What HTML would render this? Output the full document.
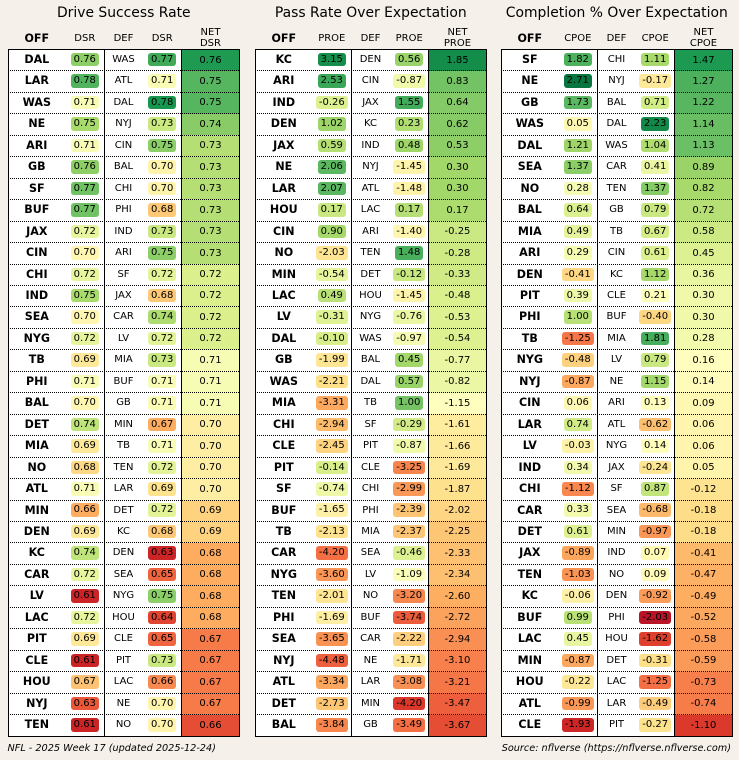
<!DOCTYPE html>
<html><head><meta charset="utf-8">
<style>
*{box-sizing:border-box}
html,body{margin:0;padding:0}
body{width:739px;height:760px;background:#f5f0ea;position:relative;overflow:hidden;font-family:"DejaVu Sans","Liberation Sans",sans-serif;color:#000}
.pn{position:absolute;top:0;width:231px;height:760px}
.tt{position:absolute;top:3px;left:-20px;width:271px;height:21px;line-height:21px;text-align:center;font-size:13.9px;white-space:nowrap}
.hd{position:absolute;top:28px;height:21px;line-height:21px;font-size:10px;text-align:center;white-space:nowrap}
.hd.o{font-weight:bold;font-size:11.1px;left:0;width:57px}
.hd.h2{left:57px;width:39px}
.hd.h3{left:96px;width:38.4px}
.hd.h4{left:134.4px;width:39px}
.hd.h5{left:173.4px;width:57.6px;line-height:10.5px;top:28px}
.tb{position:absolute;top:49.5px;left:0;width:231px;height:686.8px;background:#fff}
.r{display:flex;height:21.4625px;position:relative}
.r+.r::before{content:"";position:absolute;left:0;right:0;top:-0.5px;border-top:1px dotted #000;z-index:2}
.r b{display:block;width:57px;text-align:center;font-weight:bold;font-size:11.1px;line-height:21.46px;position:relative;top:-0.5px}
.r p{margin:0;width:39px;display:flex;align-items:center;justify-content:center;padding-bottom:1px}
.r i{font-style:normal;display:inline-block;height:13.5px;line-height:13.5px;padding:0 3px;border-radius:3px;font-size:10px}
.r u{text-decoration:none;display:block;width:38.4px;text-align:center;font-size:10px;line-height:21.46px;position:relative;top:-0.5px}
.r em{font-style:normal;display:block;width:57.6px;text-align:center;font-size:10px;line-height:21.46px}
.v1{position:absolute;top:49.5px;height:686.8px;left:95.5px;border-left:1px solid #000;z-index:3}
.v2{position:absolute;top:49.5px;height:686.8px;left:172.6px;border-left:1.5px solid #000;z-index:3}
.ob{position:absolute;top:48.8px;left:-0.7px;width:232.4px;height:688.2px;border:1.5px solid #000;z-index:4}
.ft{position:absolute;top:742px;height:13px;line-height:13px;font-size:9.7px;font-style:italic;white-space:nowrap}
</style></head><body>

<div class="pn" style="left:8.3px">
<div class="tt">Drive Success Rate</div>
<div class="hd o">OFF</div><div class="hd h2">DSR</div><div class="hd h3">DEF</div><div class="hd h4">DSR</div><div class="hd h5">NET<br>DSR</div>
<div class="tb">
<div class="r"><b>DAL</b><p><i>0.76</i></p><u>WAS</u><p><i>0.77</i></p><em>0.76</em></div>
<div class="r"><b>LAR</b><p><i>0.78</i></p><u>ATL</u><p><i>0.71</i></p><em>0.75</em></div>
<div class="r"><b>WAS</b><p><i>0.71</i></p><u>DAL</u><p><i>0.78</i></p><em>0.75</em></div>
<div class="r"><b>NE</b><p><i>0.75</i></p><u>NYJ</u><p><i>0.73</i></p><em>0.74</em></div>
<div class="r"><b>ARI</b><p><i>0.71</i></p><u>CIN</u><p><i>0.75</i></p><em>0.73</em></div>
<div class="r"><b>GB</b><p><i>0.76</i></p><u>BAL</u><p><i>0.70</i></p><em>0.73</em></div>
<div class="r"><b>SF</b><p><i>0.77</i></p><u>CHI</u><p><i>0.70</i></p><em>0.73</em></div>
<div class="r"><b>BUF</b><p><i>0.77</i></p><u>PHI</u><p><i>0.68</i></p><em>0.73</em></div>
<div class="r"><b>JAX</b><p><i>0.72</i></p><u>IND</u><p><i>0.73</i></p><em>0.73</em></div>
<div class="r"><b>CIN</b><p><i>0.70</i></p><u>ARI</u><p><i>0.75</i></p><em>0.73</em></div>
<div class="r"><b>CHI</b><p><i>0.72</i></p><u>SF</u><p><i>0.72</i></p><em>0.72</em></div>
<div class="r"><b>IND</b><p><i>0.75</i></p><u>JAX</u><p><i>0.68</i></p><em>0.72</em></div>
<div class="r"><b>SEA</b><p><i>0.70</i></p><u>CAR</u><p><i>0.74</i></p><em>0.72</em></div>
<div class="r"><b>NYG</b><p><i>0.72</i></p><u>LV</u><p><i>0.72</i></p><em>0.72</em></div>
<div class="r"><b>TB</b><p><i>0.69</i></p><u>MIA</u><p><i>0.73</i></p><em>0.71</em></div>
<div class="r"><b>PHI</b><p><i>0.71</i></p><u>BUF</u><p><i>0.71</i></p><em>0.71</em></div>
<div class="r"><b>BAL</b><p><i>0.70</i></p><u>GB</u><p><i>0.71</i></p><em>0.71</em></div>
<div class="r"><b>DET</b><p><i>0.74</i></p><u>MIN</u><p><i>0.67</i></p><em>0.70</em></div>
<div class="r"><b>MIA</b><p><i>0.69</i></p><u>TB</u><p><i>0.71</i></p><em>0.70</em></div>
<div class="r"><b>NO</b><p><i>0.68</i></p><u>TEN</u><p><i>0.72</i></p><em>0.70</em></div>
<div class="r"><b>ATL</b><p><i>0.71</i></p><u>LAR</u><p><i>0.69</i></p><em>0.70</em></div>
<div class="r"><b>MIN</b><p><i>0.66</i></p><u>DET</u><p><i>0.72</i></p><em>0.69</em></div>
<div class="r"><b>DEN</b><p><i>0.69</i></p><u>KC</u><p><i>0.68</i></p><em>0.69</em></div>
<div class="r"><b>KC</b><p><i>0.74</i></p><u>DEN</u><p><i>0.63</i></p><em>0.68</em></div>
<div class="r"><b>CAR</b><p><i>0.72</i></p><u>SEA</u><p><i>0.65</i></p><em>0.68</em></div>
<div class="r"><b>LV</b><p><i>0.61</i></p><u>NYG</u><p><i>0.75</i></p><em>0.68</em></div>
<div class="r"><b>LAC</b><p><i>0.72</i></p><u>HOU</u><p><i>0.64</i></p><em>0.68</em></div>
<div class="r"><b>PIT</b><p><i>0.69</i></p><u>CLE</u><p><i>0.65</i></p><em>0.67</em></div>
<div class="r"><b>CLE</b><p><i>0.61</i></p><u>PIT</u><p><i>0.73</i></p><em>0.67</em></div>
<div class="r"><b>HOU</b><p><i>0.67</i></p><u>LAC</u><p><i>0.66</i></p><em>0.67</em></div>
<div class="r"><b>NYJ</b><p><i>0.63</i></p><u>NE</u><p><i>0.70</i></p><em>0.67</em></div>
<div class="r"><b>TEN</b><p><i>0.61</i></p><u>NO</u><p><i>0.70</i></p><em>0.66</em></div>
</div>
<div class="v1"></div><div class="v2"></div><div class="ob"></div>
</div>

<div class="pn" style="left:255.3px">
<div class="tt">Pass Rate Over Expectation</div>
<div class="hd o">OFF</div><div class="hd h2">PROE</div><div class="hd h3">DEF</div><div class="hd h4">PROE</div><div class="hd h5">NET<br>PROE</div>
<div class="tb">
<div class="r"><b>KC</b><p><i>3.15</i></p><u>DEN</u><p><i>0.56</i></p><em>1.85</em></div>
<div class="r"><b>ARI</b><p><i>2.53</i></p><u>CIN</u><p><i>-0.87</i></p><em>0.83</em></div>
<div class="r"><b>IND</b><p><i>-0.26</i></p><u>JAX</u><p><i>1.55</i></p><em>0.64</em></div>
<div class="r"><b>DEN</b><p><i>1.02</i></p><u>KC</u><p><i>0.23</i></p><em>0.62</em></div>
<div class="r"><b>JAX</b><p><i>0.59</i></p><u>IND</u><p><i>0.48</i></p><em>0.53</em></div>
<div class="r"><b>NE</b><p><i>2.06</i></p><u>NYJ</u><p><i>-1.45</i></p><em>0.30</em></div>
<div class="r"><b>LAR</b><p><i>2.07</i></p><u>ATL</u><p><i>-1.48</i></p><em>0.30</em></div>
<div class="r"><b>HOU</b><p><i>0.17</i></p><u>LAC</u><p><i>0.17</i></p><em>0.17</em></div>
<div class="r"><b>CIN</b><p><i>0.90</i></p><u>ARI</u><p><i>-1.40</i></p><em>-0.25</em></div>
<div class="r"><b>NO</b><p><i>-2.03</i></p><u>TEN</u><p><i>1.48</i></p><em>-0.28</em></div>
<div class="r"><b>MIN</b><p><i>-0.54</i></p><u>DET</u><p><i>-0.12</i></p><em>-0.33</em></div>
<div class="r"><b>LAC</b><p><i>0.49</i></p><u>HOU</u><p><i>-1.45</i></p><em>-0.48</em></div>
<div class="r"><b>LV</b><p><i>-0.31</i></p><u>NYG</u><p><i>-0.76</i></p><em>-0.53</em></div>
<div class="r"><b>DAL</b><p><i>-0.10</i></p><u>WAS</u><p><i>-0.97</i></p><em>-0.54</em></div>
<div class="r"><b>GB</b><p><i>-1.99</i></p><u>BAL</u><p><i>0.45</i></p><em>-0.77</em></div>
<div class="r"><b>WAS</b><p><i>-2.21</i></p><u>DAL</u><p><i>0.57</i></p><em>-0.82</em></div>
<div class="r"><b>MIA</b><p><i>-3.31</i></p><u>TB</u><p><i>1.00</i></p><em>-1.15</em></div>
<div class="r"><b>CHI</b><p><i>-2.94</i></p><u>SF</u><p><i>-0.29</i></p><em>-1.61</em></div>
<div class="r"><b>CLE</b><p><i>-2.45</i></p><u>PIT</u><p><i>-0.87</i></p><em>-1.66</em></div>
<div class="r"><b>PIT</b><p><i>-0.14</i></p><u>CLE</u><p><i>-3.25</i></p><em>-1.69</em></div>
<div class="r"><b>SF</b><p><i>-0.74</i></p><u>CHI</u><p><i>-2.99</i></p><em>-1.87</em></div>
<div class="r"><b>BUF</b><p><i>-1.65</i></p><u>PHI</u><p><i>-2.39</i></p><em>-2.02</em></div>
<div class="r"><b>TB</b><p><i>-2.13</i></p><u>MIA</u><p><i>-2.37</i></p><em>-2.25</em></div>
<div class="r"><b>CAR</b><p><i>-4.20</i></p><u>SEA</u><p><i>-0.46</i></p><em>-2.33</em></div>
<div class="r"><b>NYG</b><p><i>-3.60</i></p><u>LV</u><p><i>-1.09</i></p><em>-2.34</em></div>
<div class="r"><b>TEN</b><p><i>-2.01</i></p><u>NO</u><p><i>-3.20</i></p><em>-2.60</em></div>
<div class="r"><b>PHI</b><p><i>-1.69</i></p><u>BUF</u><p><i>-3.74</i></p><em>-2.72</em></div>
<div class="r"><b>SEA</b><p><i>-3.65</i></p><u>CAR</u><p><i>-2.22</i></p><em>-2.94</em></div>
<div class="r"><b>NYJ</b><p><i>-4.48</i></p><u>NE</u><p><i>-1.71</i></p><em>-3.10</em></div>
<div class="r"><b>ATL</b><p><i>-3.34</i></p><u>LAR</u><p><i>-3.08</i></p><em>-3.21</em></div>
<div class="r"><b>DET</b><p><i>-2.73</i></p><u>MIN</u><p><i>-4.20</i></p><em>-3.47</em></div>
<div class="r"><b>BAL</b><p><i>-3.84</i></p><u>GB</u><p><i>-3.49</i></p><em>-3.67</em></div>
</div>
<div class="v1"></div><div class="v2"></div><div class="ob"></div>
</div>

<div class="pn" style="left:501.3px">
<div class="tt">Completion % Over Expectation</div>
<div class="hd o">OFF</div><div class="hd h2">CPOE</div><div class="hd h3">DEF</div><div class="hd h4">CPOE</div><div class="hd h5">NET<br>CPOE</div>
<div class="tb">
<div class="r"><b>SF</b><p><i>1.82</i></p><u>CHI</u><p><i>1.11</i></p><em>1.47</em></div>
<div class="r"><b>NE</b><p><i>2.71</i></p><u>NYJ</u><p><i>-0.17</i></p><em>1.27</em></div>
<div class="r"><b>GB</b><p><i>1.73</i></p><u>BAL</u><p><i>0.71</i></p><em>1.22</em></div>
<div class="r"><b>WAS</b><p><i>0.05</i></p><u>DAL</u><p><i>2.23</i></p><em>1.14</em></div>
<div class="r"><b>DAL</b><p><i>1.21</i></p><u>WAS</u><p><i>1.04</i></p><em>1.13</em></div>
<div class="r"><b>SEA</b><p><i>1.37</i></p><u>CAR</u><p><i>0.41</i></p><em>0.89</em></div>
<div class="r"><b>NO</b><p><i>0.28</i></p><u>TEN</u><p><i>1.37</i></p><em>0.82</em></div>
<div class="r"><b>BAL</b><p><i>0.64</i></p><u>GB</u><p><i>0.79</i></p><em>0.72</em></div>
<div class="r"><b>MIA</b><p><i>0.49</i></p><u>TB</u><p><i>0.67</i></p><em>0.58</em></div>
<div class="r"><b>ARI</b><p><i>0.29</i></p><u>CIN</u><p><i>0.61</i></p><em>0.45</em></div>
<div class="r"><b>DEN</b><p><i>-0.41</i></p><u>KC</u><p><i>1.12</i></p><em>0.36</em></div>
<div class="r"><b>PIT</b><p><i>0.39</i></p><u>CLE</u><p><i>0.21</i></p><em>0.30</em></div>
<div class="r"><b>PHI</b><p><i>1.00</i></p><u>BUF</u><p><i>-0.40</i></p><em>0.30</em></div>
<div class="r"><b>TB</b><p><i>-1.25</i></p><u>MIA</u><p><i>1.81</i></p><em>0.28</em></div>
<div class="r"><b>NYG</b><p><i>-0.48</i></p><u>LV</u><p><i>0.79</i></p><em>0.16</em></div>
<div class="r"><b>NYJ</b><p><i>-0.87</i></p><u>NE</u><p><i>1.15</i></p><em>0.14</em></div>
<div class="r"><b>CIN</b><p><i>0.06</i></p><u>ARI</u><p><i>0.13</i></p><em>0.09</em></div>
<div class="r"><b>LAR</b><p><i>0.74</i></p><u>ATL</u><p><i>-0.62</i></p><em>0.06</em></div>
<div class="r"><b>LV</b><p><i>-0.03</i></p><u>NYG</u><p><i>0.14</i></p><em>0.06</em></div>
<div class="r"><b>IND</b><p><i>0.34</i></p><u>JAX</u><p><i>-0.24</i></p><em>0.05</em></div>
<div class="r"><b>CHI</b><p><i>-1.12</i></p><u>SF</u><p><i>0.87</i></p><em>-0.12</em></div>
<div class="r"><b>CAR</b><p><i>0.33</i></p><u>SEA</u><p><i>-0.68</i></p><em>-0.18</em></div>
<div class="r"><b>DET</b><p><i>0.61</i></p><u>MIN</u><p><i>-0.97</i></p><em>-0.18</em></div>
<div class="r"><b>JAX</b><p><i>-0.89</i></p><u>IND</u><p><i>0.07</i></p><em>-0.41</em></div>
<div class="r"><b>TEN</b><p><i>-1.03</i></p><u>NO</u><p><i>0.09</i></p><em>-0.47</em></div>
<div class="r"><b>KC</b><p><i>-0.06</i></p><u>DEN</u><p><i>-0.92</i></p><em>-0.49</em></div>
<div class="r"><b>BUF</b><p><i>0.99</i></p><u>PHI</u><p><i>-2.03</i></p><em>-0.52</em></div>
<div class="r"><b>LAC</b><p><i>0.45</i></p><u>HOU</u><p><i>-1.62</i></p><em>-0.58</em></div>
<div class="r"><b>MIN</b><p><i>-0.87</i></p><u>DET</u><p><i>-0.31</i></p><em>-0.59</em></div>
<div class="r"><b>HOU</b><p><i>-0.22</i></p><u>LAC</u><p><i>-1.25</i></p><em>-0.73</em></div>
<div class="r"><b>ATL</b><p><i>-0.99</i></p><u>LAR</u><p><i>-0.49</i></p><em>-0.74</em></div>
<div class="r"><b>CLE</b><p><i>-1.93</i></p><u>PIT</u><p><i>-0.27</i></p><em>-1.10</em></div>
</div>
<div class="v1"></div><div class="v2"></div><div class="ob"></div>
</div>

<div class="ft" style="left:7.5px">NFL - 2025 Week 17 (updated 2025-12-24)</div>
<div class="ft" style="right:8px;text-align:right">Source: nflverse (https://nflverse.nflverse.com)</div>

<script>
(function(){
var stops=[[165,0,38],[215,48,39],[244,109,67],[253,174,97],[254,224,139],[255,255,191],[217,239,139],[166,217,106],[102,189,99],[26,152,80],[0,104,55]];
function cm(t){t=Math.max(0.03,Math.min(0.97,t));var x=t*10;var i=Math.min(9,Math.floor(x));var f=x-i;var a=stops[i],b=stops[i+1];
return 'rgb('+Math.round(a[0]+(b[0]-a[0])*f)+','+Math.round(a[1]+(b[1]-a[1])*f)+','+Math.round(a[2]+(b[2]-a[2])*f)+')';}
function colorize(els){var v=els.map(function(e){return parseFloat(e.textContent);});
var m=v.reduce(function(a,b){return a+b;},0)/v.length;
var s=Math.sqrt(v.reduce(function(a,b){return a+(b-m)*(b-m);},0)/v.length)||1;
els.forEach(function(e,i){e.style.background=cm(0.5+0.2*(v[i]-m)/s);});}
var tbs=document.querySelectorAll('.tb');
for(var k=0;k<tbs.length;k++){
var rows=tbs[k].querySelectorAll('.r');var c2=[],c4=[],c5=[];
for(var j=0;j<rows.length;j++){var ch=rows[j].children;c2.push(ch[1].firstElementChild);c4.push(ch[3].firstElementChild);c5.push(ch[4]);}
colorize(c2);colorize(c4);colorize(c5);}
})();
</script>
</body></html>
